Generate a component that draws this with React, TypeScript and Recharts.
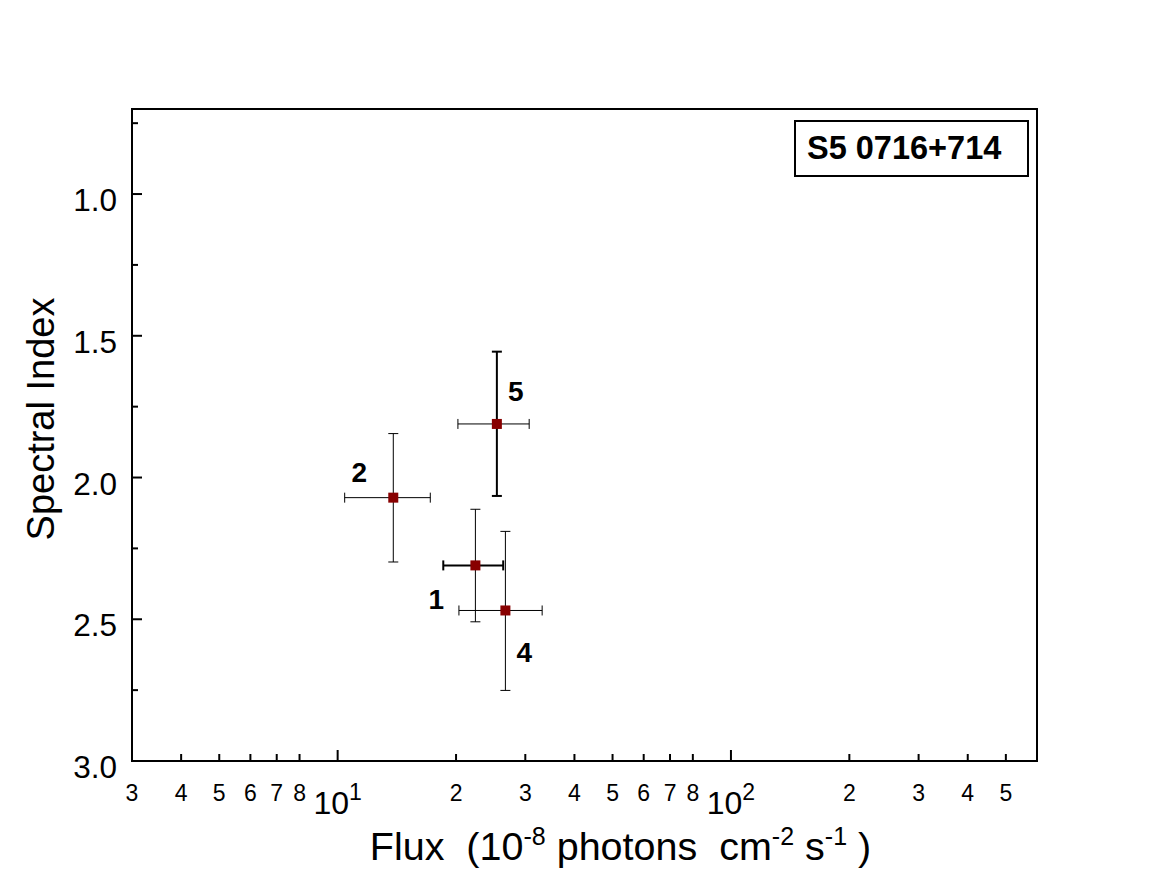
import { ErrorBar, ReferenceArea, Scatter, ScatterChart, XAxis, YAxis } from 'recharts'

// flare states, in the order they are listed
const flareIds = ['1', '2', '4', '5']
const flux = [22.4, 13.85, 26.7, 25.4]
const fluxLow = [18.56, 10.42, 20.34, 20.22]
const fluxHigh = [26.36, 17.2, 33.11, 30.69]
const photonIndex = [2.31, 2.071, 2.469, 1.811]
const indexLow = [2.112, 1.845, 2.19, 1.556]
const indexHigh = [2.509, 2.298, 2.751, 2.065]

const fluxTicks = [3, 4, 5, 6, 7, 8, 10, 20, 30, 40, 50, 60, 70, 80, 100, 200, 300, 400, 500]
const indexTicks = [0.75, 1, 1.25, 1.5, 1.75, 2, 2.25, 2.5, 2.75, 3]

const sourceName = 'S5 0716+714'

const FONT = '"Liberation Sans", Arial, Helvetica, sans-serif'

const rows = flareIds.map((id, i) => ({
  id,
  flux: flux[i],
  index: photonIndex[i],
  errX: [flux[i] - fluxLow[i], fluxHigh[i] - flux[i]],
  errY: [photonIndex[i] - indexLow[i], indexHigh[i] - photonIndex[i]]
}))

// where each number sits relative to its point
const labelOffset: Record<string, [number, number]> = {
  '1': [-39, 34],
  '2': [-34, -25],
  '4': [19, 42],
  '5': [19, -32]
}
const thickX = new Set(['1'])
const thickY = new Set(['5'])

function FluxTick({ x, y, payload }: any) {
  const v = payload.value as number
  const exp = Math.floor(Math.log10(v) + 1e-9)
  const mant = Math.round(v / 10 ** exp)
  const major = mant === 1
  return (
    <g>
      <line x1={x} x2={x} y1={y} y2={y - (major ? 11 : 7)} stroke="#000" strokeWidth={2} />
      {major ? (
        <text x={x} y={y + 53} textAnchor="middle" fontSize={32} fontFamily={FONT} fill="#000">
          10
          <tspan dy={-14} fontSize={23}>
            {exp}
          </tspan>
        </text>
      ) : (
        <text x={x} y={y + 40} textAnchor="middle" fontSize={23} fontFamily={FONT} fill="#000">
          {mant}
        </text>
      )}
    </g>
  )
}

function IndexTick({ x, y, payload }: any) {
  const v = payload.value as number
  const major = Math.abs(v * 2 - Math.round(v * 2)) < 1e-6
  return (
    <g>
      <line x1={x} x2={x + (major ? 10 : 6)} y1={y} y2={y} stroke="#000" strokeWidth={2} />
      {major && (
        <text x={x - 15} y={y + 17} textAnchor="end" fontSize={31.5} fontFamily={FONT} fill="#000">
          {v.toFixed(1)}
        </text>
      )}
    </g>
  )
}

function PointShape({ cx, cy, payload }: any) {
  const [dx, dy] = labelOffset[payload.id] ?? [15, -25]
  return (
    <g>
      <rect x={cx - 5} y={cy - 5} width={10} height={10} fill="#880000" />
      <text
        x={cx + dx}
        y={cy + dy}
        textAnchor="middle"
        dominantBaseline="central"
        fontSize={28}
        fontWeight="bold"
        fontFamily={FONT}
        fill="#000"
      >
        {payload.id}
      </text>
    </g>
  )
}

function XTitle({ viewBox }: any) {
  const cx = viewBox.x + viewBox.width / 2 + 36
  const cy = viewBox.y + 99
  return (
    <text x={cx} y={cy} textAnchor="middle" fontSize={39.5} fontFamily={FONT} fill="#000">
      Flux{'\u00a0\u00a0'}(10
      <tspan dy={-15} fontSize={25}>
        -8
      </tspan>
      <tspan dy={15}>{'\u00a0'}photons{'\u00a0\u00a0'}cm</tspan>
      <tspan dy={-15} fontSize={25}>
        -2
      </tspan>
      <tspan dy={15}>{'\u00a0'}s</tspan>
      <tspan dy={-15} fontSize={25}>
        -1
      </tspan>
      <tspan dy={15}>{'\u00a0'})</tspan>
    </text>
  )
}

function YTitle({ viewBox }: any) {
  const x = 54
  const y = viewBox.y + viewBox.height / 2 - 16
  return (
    <text
      x={x}
      y={y}
      textAnchor="middle"
      fontSize={38}
      fontFamily={FONT}
      fill="#000"
      transform={`rotate(-90, ${x}, ${y})`}
    >
      Spectral Index
    </text>
  )
}

export default function App() {
  return (
    <div style={{ position: 'absolute', left: 0, top: 0, width: 1158, height: 894, background: '#fff' }}>
      <ScatterChart width={1158} height={894} margin={{ top: 109, right: 121, bottom: 73, left: 72 }}>
        <XAxis
          type="number"
          dataKey="flux"
          scale="log"
          domain={[3, 600]}
          allowDataOverflow
          ticks={fluxTicks}
          interval={0}
          height={60}
          tickSize={0}
          tickMargin={0}
          axisLine={false}
          tickLine={false}
          tick={<FluxTick />}
          label={{ content: <XTitle /> }}
        />
        <YAxis
          type="number"
          dataKey="index"
          reversed
          domain={[0.7, 3.0]}
          allowDataOverflow
          ticks={indexTicks}
          interval={0}
          width={60}
          tickSize={0}
          tickMargin={0}
          axisLine={false}
          tickLine={false}
          tick={<IndexTick />}
          label={{ content: <YTitle /> }}
        />
        <ReferenceArea
          x1={3}
          x2={600}
          y1={0.7}
          y2={3.0}
          fill="none"
          fillOpacity={0}
          stroke="#000"
          strokeWidth={2}
          ifOverflow="visible"
        />
        <Scatter data={rows} shape={<PointShape />} isAnimationActive={false}>
          <ErrorBar
            direction="x"
            dataKey={(d: any) => (thickX.has(d.id) ? undefined : d.errX)}
            width={5}
            stroke="#000"
            strokeWidth={1}
            isAnimationActive={false}
          />
          <ErrorBar
            direction="x"
            dataKey={(d: any) => (thickX.has(d.id) ? d.errX : undefined)}
            width={5}
            stroke="#000"
            strokeWidth={2}
            isAnimationActive={false}
          />
          <ErrorBar
            direction="y"
            dataKey={(d: any) => (thickY.has(d.id) ? undefined : d.errY)}
            width={5}
            stroke="#000"
            strokeWidth={1}
            isAnimationActive={false}
          />
          <ErrorBar
            direction="y"
            dataKey={(d: any) => (thickY.has(d.id) ? d.errY : undefined)}
            width={5}
            stroke="#000"
            strokeWidth={2}
            isAnimationActive={false}
          />
        </Scatter>
      </ScatterChart>
      <div
        style={{
          position: 'absolute',
          left: 794,
          top: 120,
          width: 235,
          height: 57,
          boxSizing: 'border-box',
          border: '2.5px solid #000',
          display: 'flex',
          alignItems: 'center',
          paddingLeft: 11,
          fontFamily: FONT,
          fontWeight: 'bold',
          fontSize: 32.5,
          color: '#000'
        }}
      >
        {sourceName}
      </div>
    </div>
  )
}
